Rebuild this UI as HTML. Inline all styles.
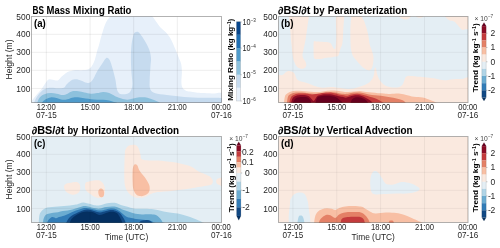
<!DOCTYPE html>
<html><head><meta charset="utf-8"><style>
html,body{margin:0;padding:0;background:#fff;width:500px;height:248px;overflow:hidden}
svg{display:block;will-change:transform}
text{font-family:"Liberation Sans",sans-serif}
.tk{font-size:8.7px;fill:#262626}
.tt{font-size:10px;font-weight:bold;fill:#000;stroke:#000;stroke-width:0.05px}
.pl{font-size:10.6px;font-weight:bold;fill:#000}
.cl{font-size:8px;font-weight:bold;fill:#000}
.cb{font-size:8.2px;fill:#262626}
.sup{font-size:5.2px;fill:#262626}
</style></head><body>
<svg width="500" height="248" viewBox="0 0 500 248" xmlns="http://www.w3.org/2000/svg">
<rect width="500" height="248" fill="#fff"/>
<clipPath id="ca"><rect x="31.5" y="16.5" width="190.00" height="86.00"/></clipPath>
<g clip-path="url(#ca)">
<rect x="31.5" y="16.5" width="190.00" height="86.00" fill="#ffffff"/>
<path d="M31.00,104.00 C31.13,103.17 30.97,102.40 31.80,101.00 C32.63,99.60 34.28,97.72 36.00,95.60 C37.72,93.48 40.28,90.73 42.10,88.30 C43.92,85.87 45.70,82.52 46.90,81.00 C48.10,79.48 48.28,79.40 49.30,79.20 C50.32,79.00 51.58,79.60 53.00,79.80 C54.42,80.00 56.40,80.90 57.80,80.40 C59.20,79.90 60.28,77.83 61.40,76.80 C62.52,75.77 63.37,75.03 64.50,74.20 C65.63,73.37 66.58,72.47 68.20,71.80 C69.82,71.13 72.02,70.47 74.20,70.20 C76.38,69.93 78.93,70.35 81.30,70.20 C83.67,70.05 86.62,70.03 88.40,69.30 C90.18,68.57 90.92,67.43 92.00,65.80 C93.08,64.17 94.07,61.88 94.90,59.50 C95.73,57.12 96.32,53.92 97.00,51.50 C97.68,49.08 98.23,47.70 99.00,45.00 C99.77,42.30 100.60,38.68 101.60,35.30 C102.60,31.92 103.93,27.37 105.00,24.70 C106.07,22.03 107.00,20.83 108.00,19.30 C109.00,17.77 110.25,16.55 111.00,15.50 C111.75,14.45 106.00,13.42 112.50,13.00 C119.00,12.58 143.50,12.67 150.00,13.00 C156.50,13.33 150.67,13.83 151.50,15.00 C152.33,16.17 154.00,18.60 155.00,20.00 C156.00,21.40 156.45,22.02 157.50,23.40 C158.55,24.78 159.92,26.82 161.30,28.30 C162.68,29.78 164.45,30.88 165.80,32.30 C167.15,33.72 168.37,35.27 169.40,36.80 C170.43,38.33 170.98,39.38 172.00,41.50 C173.02,43.62 174.35,46.75 175.50,49.50 C176.65,52.25 177.95,55.58 178.90,58.00 C179.85,60.42 180.70,61.67 181.20,64.00 C181.70,66.33 181.87,69.00 181.90,72.00 C181.93,75.00 181.32,79.42 181.40,82.00 C181.48,84.58 181.72,86.10 182.40,87.50 C183.08,88.90 184.23,89.72 185.50,90.40 C186.77,91.08 188.25,91.25 190.00,91.60 C191.75,91.95 193.92,92.25 196.00,92.50 C198.08,92.75 199.83,92.95 202.50,93.10 C205.17,93.25 208.42,93.32 212.00,93.40 C215.58,93.48 222.00,91.50 224.00,93.60 C226.00,95.70 256.17,103.93 224.00,106.00 C191.83,108.07 63.17,106.33 31.00,106.00 C-1.17,105.67 30.87,104.83 31.00,104.00Z" fill="#e7f0fa"/>
<path d="M34.20,106.00 C2.57,105.42 33.68,104.13 34.20,102.50 C34.72,100.87 35.98,98.17 37.30,96.20 C38.62,94.23 40.50,92.02 42.10,90.70 C43.70,89.38 45.28,88.80 46.90,88.30 C48.52,87.80 49.98,87.70 51.80,87.70 C53.62,87.70 55.78,88.30 57.80,88.30 C59.82,88.30 62.48,88.30 63.90,87.70 C65.32,87.10 65.10,85.92 66.30,84.70 C67.50,83.48 69.48,81.32 71.10,80.40 C72.72,79.48 74.38,79.20 76.00,79.20 C77.62,79.20 79.02,79.82 80.80,80.40 C82.58,80.98 85.08,82.38 86.70,82.70 C88.32,83.02 89.37,82.98 90.50,82.30 C91.63,81.62 92.37,80.47 93.50,78.60 C94.63,76.73 95.78,73.68 97.30,71.10 C98.82,68.52 101.32,65.07 102.60,63.10 C103.88,61.13 104.25,60.18 105.00,59.30 C105.75,58.42 106.35,57.72 107.10,57.80 C107.85,57.88 108.77,58.62 109.50,59.80 C110.23,60.98 110.83,62.87 111.50,64.90 C112.17,66.93 112.83,69.48 113.50,72.00 C114.17,74.52 114.95,77.25 115.50,80.00 C116.05,82.75 116.30,86.40 116.80,88.50 C117.30,90.60 117.75,91.63 118.50,92.60 C119.25,93.57 119.83,94.12 121.30,94.30 C122.77,94.48 125.72,94.30 127.30,93.70 C128.88,93.10 129.95,92.32 130.80,90.70 C131.65,89.08 132.30,87.12 132.40,84.00 C132.50,80.88 131.65,76.33 131.40,72.00 C131.15,67.67 130.90,62.33 130.90,58.00 C130.90,53.67 131.08,49.42 131.40,46.00 C131.72,42.58 132.30,39.67 132.80,37.50 C133.30,35.33 133.80,33.93 134.40,33.00 C135.00,32.07 135.72,32.02 136.40,31.90 C137.08,31.78 137.80,31.85 138.50,32.30 C139.20,32.75 139.58,33.22 140.60,34.60 C141.62,35.98 143.17,38.12 144.60,40.60 C146.03,43.08 148.13,46.60 149.20,49.50 C150.27,52.40 150.78,55.25 151.00,58.00 C151.22,60.75 150.72,62.33 150.50,66.00 C150.28,69.67 149.78,76.28 149.70,80.00 C149.62,83.72 149.37,86.22 150.00,88.30 C150.63,90.38 151.30,91.45 153.50,92.50 C155.70,93.55 158.78,93.93 163.20,94.60 C167.62,95.27 174.20,95.97 180.00,96.50 C185.80,97.03 190.67,97.48 198.00,97.80 C205.33,98.12 219.67,97.03 224.00,98.40 C228.33,99.77 255.63,104.73 224.00,106.00 C192.37,107.27 65.83,106.58 34.20,106.00Z" fill="#c6dbef"/>
<path d="M37.30,106.00 C16.85,105.42 36.90,103.93 37.30,102.50 C37.70,101.07 38.50,98.77 39.70,97.40 C40.90,96.03 42.68,95.02 44.50,94.30 C46.32,93.58 48.58,93.20 50.60,93.10 C52.62,93.00 54.60,93.38 56.60,93.70 C58.60,94.02 60.78,95.00 62.60,95.00 C64.42,95.00 65.88,94.32 67.50,93.70 C69.12,93.08 70.48,91.70 72.30,91.30 C74.12,90.90 76.38,91.10 78.40,91.30 C80.42,91.50 82.30,92.10 84.40,92.50 C86.50,92.90 88.88,93.60 91.00,93.70 C93.12,93.80 95.08,93.40 97.10,93.10 C99.12,92.80 101.08,91.90 103.10,91.90 C105.12,91.90 107.18,92.38 109.20,93.10 C111.22,93.82 113.18,95.28 115.20,96.20 C117.22,97.12 119.28,98.00 121.30,98.60 C123.32,99.20 125.28,99.80 127.30,99.80 C129.32,99.80 131.38,99.02 133.40,98.60 C135.42,98.18 137.47,97.52 139.40,97.30 C141.33,97.08 143.28,97.08 145.00,97.30 C146.72,97.52 148.20,98.15 149.70,98.60 C151.20,99.05 152.72,99.52 154.00,100.00 C155.28,100.48 156.40,101.00 157.40,101.50 C158.40,102.00 159.57,102.25 160.00,103.00 C160.43,103.75 180.45,105.50 160.00,106.00 C139.55,106.50 57.75,106.58 37.30,106.00Z" fill="#8dc1dd"/>
<path d="M42.10,106.00 C29.62,105.42 41.50,103.63 42.10,102.50 C42.70,101.37 44.28,100.05 45.70,99.20 C47.12,98.35 48.78,97.60 50.60,97.40 C52.42,97.20 54.60,97.60 56.60,98.00 C58.60,98.40 60.78,99.60 62.60,99.80 C64.42,100.00 65.68,99.60 67.50,99.20 C69.32,98.80 71.48,97.70 73.50,97.40 C75.52,97.10 77.58,97.20 79.60,97.40 C81.62,97.60 83.70,98.30 85.60,98.60 C87.50,98.90 89.08,99.00 91.00,99.20 C92.92,99.40 95.08,99.70 97.10,99.80 C99.12,99.90 101.08,99.70 103.10,99.80 C105.12,99.90 107.18,100.00 109.20,100.40 C111.22,100.80 113.90,101.77 115.20,102.20 C116.50,102.63 116.70,102.37 117.00,103.00 C117.30,103.63 129.48,105.50 117.00,106.00 C104.52,106.50 54.58,106.58 42.10,106.00Z" fill="#4f9bcb"/>
<line x1="46.3" y1="16.5" x2="46.3" y2="102.5" stroke="#000000" stroke-width="1" stroke-opacity="0.07"/>
<line x1="90.1" y1="16.5" x2="90.1" y2="102.5" stroke="#000000" stroke-width="1" stroke-opacity="0.07"/>
<line x1="133.7" y1="16.5" x2="133.7" y2="102.5" stroke="#000000" stroke-width="1" stroke-opacity="0.07"/>
<line x1="177.3" y1="16.5" x2="177.3" y2="102.5" stroke="#000000" stroke-width="1" stroke-opacity="0.07"/>
<line x1="31.5" y1="34.3" x2="221.5" y2="34.3" stroke="#000000" stroke-width="1" stroke-opacity="0.07"/>
<line x1="31.5" y1="52.3" x2="221.5" y2="52.3" stroke="#000000" stroke-width="1" stroke-opacity="0.07"/>
<line x1="31.5" y1="70.3" x2="221.5" y2="70.3" stroke="#000000" stroke-width="1" stroke-opacity="0.07"/>
<line x1="31.5" y1="88.4" x2="221.5" y2="88.4" stroke="#000000" stroke-width="1" stroke-opacity="0.07"/>
</g>
<rect x="31.5" y="16.5" width="190.00" height="86.00" fill="none" stroke="#000000" stroke-opacity="0.3" stroke-width="1"/>
<clipPath id="cbb"><rect x="278.5" y="16.5" width="189.50" height="86.00"/></clipPath>
<g clip-path="url(#cbb)">
<rect x="278.5" y="16.5" width="189.50" height="86.00" fill="#e4eef4"/>
<path d="M288.90,14.00 C285.55,14.33 288.70,13.58 288.90,16.00 C289.10,18.42 289.70,23.98 290.10,28.50 C290.50,33.02 290.82,38.25 291.30,43.10 C291.78,47.95 292.38,54.20 293.00,57.60 C293.62,61.00 294.40,62.05 295.00,63.50 C295.60,64.95 296.00,65.57 296.60,66.30 C297.20,67.03 297.73,67.48 298.60,67.90 C299.47,68.32 300.73,68.83 301.80,68.80 C302.87,68.77 304.25,68.30 305.00,67.70 C305.75,67.10 306.23,66.23 306.30,65.20 C306.37,64.17 305.90,62.62 305.40,61.50 C304.90,60.38 303.80,59.58 303.30,58.50 C302.80,57.42 302.38,56.37 302.40,55.00 C302.42,53.63 302.83,53.10 303.40,50.30 C303.97,47.50 305.12,42.23 305.80,38.20 C306.48,34.17 306.97,29.80 307.50,26.10 C308.03,22.40 308.75,18.02 309.00,16.00 C309.25,13.98 312.35,14.33 309.00,14.00 C305.65,13.67 292.25,13.67 288.90,14.00Z" fill="#fae9df"/>
<path d="M313.80,41.80 C314.20,40.37 314.63,41.40 316.00,41.40 C317.37,41.40 319.72,41.57 322.00,41.80 C324.28,42.03 328.02,42.15 329.70,42.80 C331.38,43.45 331.35,44.67 332.10,45.70 C332.85,46.73 333.62,48.78 334.20,49.00 C334.78,49.22 335.25,49.17 335.60,47.00 C335.95,44.83 336.15,41.50 336.30,36.00 C336.45,30.50 335.17,17.67 336.50,14.00 C337.83,10.33 343.02,13.58 344.30,14.00 C345.58,14.42 344.37,13.83 344.20,16.50 C344.03,19.17 343.60,25.53 343.30,30.00 C343.00,34.47 342.85,40.28 342.40,43.30 C341.95,46.32 341.12,46.50 340.60,48.10 C340.08,49.70 339.72,51.58 339.30,52.90 C338.88,54.22 338.70,55.38 338.10,56.00 C337.50,56.62 336.70,56.40 335.70,56.60 C334.70,56.80 333.30,57.05 332.10,57.20 C330.90,57.35 329.72,57.37 328.50,57.50 C327.28,57.63 325.82,57.80 324.80,58.00 C323.78,58.20 323.43,58.55 322.40,58.70 C321.37,58.85 319.97,58.97 318.60,58.90 C317.23,58.83 315.03,59.78 314.20,58.30 C313.37,56.82 313.67,52.75 313.60,50.00 C313.53,47.25 313.40,43.23 313.80,41.80Z" fill="#fae9df"/>
<path d="M351.00,14.00 C349.27,14.42 351.20,13.83 351.10,16.50 C351.00,19.17 350.48,25.42 350.40,30.00 C350.32,34.58 350.45,40.55 350.60,44.00 C350.75,47.45 350.93,48.73 351.30,50.70 C351.67,52.67 352.10,54.37 352.80,55.80 C353.50,57.23 354.53,58.10 355.50,59.30 C356.47,60.50 357.35,61.65 358.60,63.00 C359.85,64.35 361.53,66.23 363.00,67.40 C364.47,68.57 366.18,69.55 367.40,70.00 C368.62,70.45 369.43,70.77 370.30,70.10 C371.17,69.43 372.08,67.63 372.60,66.00 C373.12,64.37 373.28,61.97 373.40,60.30 C373.52,58.63 373.60,57.72 373.30,56.00 C373.00,54.28 372.22,52.00 371.60,50.00 C370.98,48.00 370.13,46.37 369.60,44.00 C369.07,41.63 368.90,38.38 368.40,35.80 C367.90,33.22 367.30,30.92 366.60,28.50 C365.90,26.08 365.00,23.30 364.20,21.30 C363.40,19.30 362.25,17.72 361.80,16.50 C361.35,15.28 363.30,14.42 361.50,14.00 C359.70,13.58 352.73,13.58 351.00,14.00Z" fill="#fae9df"/>
<path d="M276.00,74.80 C276.38,69.60 277.43,74.73 278.30,74.80 C279.17,74.87 280.30,75.30 281.20,75.20 C282.10,75.10 282.95,74.68 283.70,74.20 C284.45,73.72 284.93,72.83 285.70,72.30 C286.47,71.77 287.33,71.15 288.30,71.00 C289.27,70.85 290.53,71.08 291.50,71.40 C292.47,71.72 293.45,72.22 294.10,72.90 C294.75,73.58 294.98,74.53 295.40,75.50 C295.82,76.47 296.07,77.85 296.60,78.70 C297.13,79.55 297.70,80.08 298.60,80.60 C299.50,81.12 300.63,81.40 302.00,81.80 C303.37,82.20 305.20,82.50 306.80,83.00 C308.40,83.50 310.00,84.20 311.60,84.80 C313.20,85.40 314.60,86.10 316.40,86.60 C318.20,87.10 320.40,87.68 322.40,87.80 C324.40,87.92 326.63,87.42 328.40,87.30 C330.17,87.18 331.73,87.05 333.00,87.10 C334.27,87.15 334.50,87.40 336.00,87.60 C337.50,87.80 340.00,88.08 342.00,88.30 C344.00,88.52 346.00,88.88 348.00,88.90 C350.00,88.92 352.23,88.72 354.00,88.40 C355.77,88.08 356.95,87.53 358.60,87.00 C360.25,86.47 362.13,85.95 363.90,85.20 C365.67,84.45 367.72,83.68 369.20,82.50 C370.68,81.32 371.95,79.72 372.80,78.10 C373.65,76.48 374.00,74.38 374.30,72.80 C374.60,71.22 374.40,69.47 374.60,68.60 C374.80,67.73 375.23,67.47 375.50,67.60 C375.77,67.73 375.92,68.25 376.20,69.40 C376.48,70.55 376.73,72.90 377.20,74.50 C377.67,76.10 378.27,77.67 379.00,79.00 C379.73,80.33 380.68,81.50 381.60,82.50 C382.52,83.50 383.52,84.35 384.50,85.00 C385.48,85.65 385.90,85.98 387.50,86.40 C389.10,86.82 392.12,87.40 394.10,87.50 C396.08,87.60 397.98,87.50 399.40,87.00 C400.82,86.50 401.75,85.67 402.60,84.50 C403.45,83.33 403.97,81.25 404.50,80.00 C405.03,78.75 405.13,77.72 405.80,77.00 C406.47,76.28 407.47,75.87 408.50,75.70 C409.53,75.53 410.73,75.87 412.00,76.00 C413.27,76.13 413.95,76.30 416.10,76.50 C418.25,76.70 421.98,76.90 424.90,77.20 C427.82,77.50 430.33,77.78 433.60,78.30 C436.87,78.82 441.60,80.12 444.50,80.30 C447.40,80.48 448.10,79.62 451.00,79.40 C453.90,79.18 458.73,79.00 461.90,79.00 C465.07,79.00 468.65,74.90 470.00,79.40 C471.35,83.90 502.33,101.57 470.00,106.00 C437.67,110.43 308.33,111.20 276.00,106.00 C243.67,100.80 275.62,80.00 276.00,74.80Z" fill="#fae9df"/>
<path d="M445.20,14.00 C441.07,14.40 444.53,15.37 445.20,16.40 C445.87,17.43 447.73,19.37 449.20,20.20 C450.67,21.03 452.67,20.70 454.00,21.40 C455.33,22.10 456.13,23.27 457.20,24.40 C458.27,25.53 459.47,27.28 460.40,28.20 C461.33,29.12 462.00,29.72 462.80,29.90 C463.60,30.08 464.00,29.68 465.20,29.30 C466.40,28.92 469.20,30.15 470.00,27.60 C470.80,25.05 474.13,16.27 470.00,14.00 C465.87,11.73 449.33,13.60 445.20,14.00Z" fill="#fae9df"/>
<path d="M398.80,14.00 C396.83,14.40 398.47,15.63 399.00,16.40 C399.53,17.17 400.83,18.07 402.00,18.60 C403.17,19.13 404.83,19.60 406.00,19.60 C407.17,19.60 408.20,19.13 409.00,18.60 C409.80,18.07 410.50,17.17 410.80,16.40 C411.10,15.63 412.80,14.40 410.80,14.00 C408.80,13.60 400.77,13.60 398.80,14.00Z" fill="#fae9df"/>
<path d="M415.60,14.00 C414.42,14.47 415.77,16.17 416.50,16.80 C417.23,17.43 418.92,17.80 420.00,17.80 C421.08,17.80 422.40,17.43 423.00,16.80 C423.60,16.17 424.83,14.47 423.60,14.00 C422.37,13.53 416.78,13.53 415.60,14.00Z" fill="#fae9df"/>
<path d="M284.00,106.00 C258.67,105.42 283.80,104.23 284.00,102.50 C284.20,100.77 284.60,97.15 285.20,95.60 C285.80,94.05 286.60,93.90 287.60,93.20 C288.60,92.50 289.80,91.80 291.20,91.40 C292.60,91.00 294.20,90.87 296.00,90.80 C297.80,90.73 300.00,90.90 302.00,91.00 C304.00,91.10 306.00,91.23 308.00,91.40 C310.00,91.57 312.00,91.90 314.00,92.00 C316.00,92.10 318.00,92.17 320.00,92.00 C322.00,91.83 324.00,91.23 326.00,91.00 C328.00,90.77 330.33,90.63 332.00,90.60 C333.67,90.57 334.33,90.67 336.00,90.80 C337.67,90.93 340.00,91.20 342.00,91.40 C344.00,91.60 346.00,92.00 348.00,92.00 C350.00,92.00 352.00,91.57 354.00,91.40 C356.00,91.23 358.00,90.90 360.00,91.00 C362.00,91.10 364.00,91.73 366.00,92.00 C368.00,92.27 370.00,92.40 372.00,92.60 C374.00,92.80 376.00,93.07 378.00,93.20 C380.00,93.33 382.00,93.27 384.00,93.40 C386.00,93.53 387.55,93.97 390.00,94.00 C392.45,94.03 396.15,93.48 398.70,93.60 C401.25,93.72 402.75,94.17 405.30,94.70 C407.85,95.23 411.10,96.32 414.00,96.80 C416.90,97.28 419.80,96.98 422.70,97.60 C425.60,98.22 429.22,99.68 431.40,100.50 C433.58,101.32 435.03,101.58 435.80,102.50 C436.57,103.42 461.30,105.42 436.00,106.00 C410.70,106.58 309.33,106.58 284.00,106.00Z" fill="#f8bfa4"/>
<path d="M287.00,106.00 C267.25,105.42 286.80,104.13 287.00,102.50 C287.20,100.87 287.50,97.65 288.20,96.20 C288.90,94.75 289.90,94.40 291.20,93.80 C292.50,93.20 294.20,92.80 296.00,92.60 C297.80,92.40 300.00,92.50 302.00,92.60 C304.00,92.70 306.00,93.00 308.00,93.20 C310.00,93.40 312.00,93.75 314.00,93.80 C316.00,93.85 318.00,93.67 320.00,93.50 C322.00,93.33 324.00,93.02 326.00,92.80 C328.00,92.58 330.33,92.23 332.00,92.20 C333.67,92.17 334.33,92.33 336.00,92.60 C337.67,92.87 340.00,93.60 342.00,93.80 C344.00,94.00 346.00,94.00 348.00,93.80 C350.00,93.60 352.00,92.80 354.00,92.60 C356.00,92.40 358.00,92.40 360.00,92.60 C362.00,92.80 364.00,93.40 366.00,93.80 C368.00,94.20 370.00,94.70 372.00,95.00 C374.00,95.30 376.00,95.40 378.00,95.60 C380.00,95.80 382.00,95.92 384.00,96.20 C386.00,96.48 387.92,96.93 390.00,97.30 C392.08,97.67 394.50,97.93 396.50,98.40 C398.50,98.87 400.53,99.42 402.00,100.10 C403.47,100.78 404.72,101.52 405.30,102.50 C405.88,103.48 425.22,105.42 405.50,106.00 C385.78,106.58 306.75,106.58 287.00,106.00Z" fill="#e48066"/>
<path d="M289.40,106.00 C273.80,105.42 289.10,104.03 289.40,102.50 C289.70,100.97 290.30,98.15 291.20,96.80 C292.10,95.45 293.33,94.93 294.80,94.40 C296.27,93.87 298.47,93.75 300.00,93.60 C301.53,93.45 302.50,93.43 304.00,93.50 C305.50,93.57 307.58,93.82 309.00,94.00 C310.42,94.18 311.33,94.60 312.50,94.60 C313.67,94.60 314.75,94.20 316.00,94.00 C317.25,93.80 318.67,93.60 320.00,93.40 C321.33,93.20 322.67,92.93 324.00,92.80 C325.33,92.67 326.67,92.62 328.00,92.60 C329.33,92.58 330.67,92.53 332.00,92.70 C333.33,92.87 334.67,93.25 336.00,93.60 C337.33,93.95 338.67,94.52 340.00,94.80 C341.33,95.08 342.87,95.13 344.00,95.30 C345.13,95.47 345.53,95.95 346.80,95.80 C348.07,95.65 349.80,94.73 351.60,94.40 C353.40,94.07 355.60,93.70 357.60,93.80 C359.60,93.90 361.60,94.50 363.60,95.00 C365.60,95.50 367.60,96.20 369.60,96.80 C371.60,97.40 373.80,97.90 375.60,98.60 C377.40,99.30 379.20,100.35 380.40,101.00 C381.60,101.65 382.37,101.67 382.80,102.50 C383.23,103.33 398.57,105.42 383.00,106.00 C367.43,106.58 305.00,106.58 289.40,106.00Z" fill="#c43b3c"/>
<path d="M291.20,106.00 C277.73,105.42 290.98,103.75 291.20,102.50 C291.42,101.25 291.95,99.50 292.50,98.50 C293.05,97.50 293.75,97.00 294.50,96.50 C295.25,96.00 295.92,95.73 297.00,95.50 C298.08,95.27 299.83,95.17 301.00,95.10 C302.17,95.03 302.92,94.98 304.00,95.10 C305.08,95.22 306.50,95.45 307.50,95.80 C308.50,96.15 309.25,96.58 310.00,97.20 C310.75,97.82 311.42,98.87 312.00,99.50 C312.58,100.13 313.00,101.00 313.50,101.00 C314.00,101.00 314.50,100.17 315.00,99.50 C315.50,98.83 315.92,97.67 316.50,97.00 C317.08,96.33 317.75,95.83 318.50,95.50 C319.25,95.17 320.08,95.20 321.00,95.00 C321.92,94.80 322.83,94.43 324.00,94.30 C325.17,94.17 326.67,94.17 328.00,94.20 C329.33,94.23 330.67,94.30 332.00,94.50 C333.33,94.70 334.67,95.05 336.00,95.40 C337.33,95.75 338.67,96.30 340.00,96.60 C341.33,96.90 343.00,97.00 344.00,97.20 C345.00,97.40 345.13,97.87 346.00,97.80 C346.87,97.73 347.87,97.20 349.20,96.80 C350.53,96.40 352.20,95.60 354.00,95.40 C355.80,95.20 358.00,95.17 360.00,95.60 C362.00,96.03 364.20,97.10 366.00,98.00 C367.80,98.90 369.80,100.25 370.80,101.00 C371.80,101.75 371.80,101.67 372.00,102.50 C372.20,103.33 385.47,105.42 372.00,106.00 C358.53,106.58 304.67,106.58 291.20,106.00Z" fill="#8a0b25"/>
<path d="M293.00,106.00 C290.03,105.25 293.17,102.67 293.50,101.50 C293.83,100.33 294.33,99.65 295.00,99.00 C295.67,98.35 296.50,97.93 297.50,97.60 C298.50,97.27 299.92,97.10 301.00,97.00 C302.08,96.90 303.00,96.95 304.00,97.00 C305.00,97.05 306.17,97.05 307.00,97.30 C307.83,97.55 308.42,97.97 309.00,98.50 C309.58,99.03 310.13,99.75 310.50,100.50 C310.87,101.25 311.07,102.08 311.20,103.00 C311.33,103.92 314.33,105.50 311.30,106.00 C308.27,106.50 295.97,106.75 293.00,106.00Z" fill="#67001f"/>
<path d="M315.50,106.00 C311.02,105.33 315.58,103.20 315.80,102.00 C316.02,100.80 316.38,99.67 316.80,98.80 C317.22,97.93 317.60,97.23 318.30,96.80 C319.00,96.37 320.05,96.37 321.00,96.20 C321.95,96.03 322.83,95.87 324.00,95.80 C325.17,95.73 326.38,95.70 328.00,95.80 C329.62,95.90 332.20,96.07 333.70,96.40 C335.20,96.73 335.95,97.15 337.00,97.80 C338.05,98.45 339.17,99.60 340.00,100.30 C340.83,101.00 341.55,101.05 342.00,102.00 C342.45,102.95 347.12,105.33 342.70,106.00 C338.28,106.67 319.98,106.67 315.50,106.00Z" fill="#67001f"/>
<path d="M350.40,106.00 C347.50,105.33 350.70,103.13 351.00,102.00 C351.30,100.87 351.50,99.97 352.20,99.20 C352.90,98.43 353.90,97.70 355.20,97.40 C356.50,97.10 358.40,97.10 360.00,97.40 C361.60,97.70 363.55,98.43 364.80,99.20 C366.05,99.97 366.90,100.87 367.50,102.00 C368.10,103.13 371.25,105.33 368.40,106.00 C365.55,106.67 353.30,106.67 350.40,106.00Z" fill="#67001f"/>
<line x1="292.9" y1="16.5" x2="292.9" y2="102.5" stroke="#000000" stroke-width="1" stroke-opacity="0.05"/>
<line x1="336.8" y1="16.5" x2="336.8" y2="102.5" stroke="#000000" stroke-width="1" stroke-opacity="0.05"/>
<line x1="380.6" y1="16.5" x2="380.6" y2="102.5" stroke="#000000" stroke-width="1" stroke-opacity="0.05"/>
<line x1="424.5" y1="16.5" x2="424.5" y2="102.5" stroke="#000000" stroke-width="1" stroke-opacity="0.05"/>
<line x1="278.5" y1="34.3" x2="468.0" y2="34.3" stroke="#000000" stroke-width="1" stroke-opacity="0.05"/>
<line x1="278.5" y1="52.3" x2="468.0" y2="52.3" stroke="#000000" stroke-width="1" stroke-opacity="0.05"/>
<line x1="278.5" y1="70.3" x2="468.0" y2="70.3" stroke="#000000" stroke-width="1" stroke-opacity="0.05"/>
<line x1="278.5" y1="88.4" x2="468.0" y2="88.4" stroke="#000000" stroke-width="1" stroke-opacity="0.05"/>
</g>
<rect x="278.5" y="16.5" width="189.50" height="86.00" fill="none" stroke="#000000" stroke-opacity="0.3" stroke-width="1"/>
<clipPath id="cc"><rect x="31.5" y="136.5" width="190.00" height="86.00"/></clipPath>
<g clip-path="url(#cc)">
<rect x="31.5" y="136.5" width="190.00" height="86.00" fill="#e4eef4"/>
<path d="M64.00,187.00 C63.92,185.92 64.42,185.12 65.00,184.50 C65.58,183.88 66.50,183.58 67.50,183.30 C68.50,183.02 69.75,183.02 71.00,182.80 C72.25,182.58 73.92,182.08 75.00,182.00 C76.08,181.92 76.75,181.97 77.50,182.30 C78.25,182.63 79.03,183.13 79.50,184.00 C79.97,184.87 80.30,186.25 80.30,187.50 C80.30,188.75 80.13,190.42 79.50,191.50 C78.87,192.58 77.58,193.45 76.50,194.00 C75.42,194.55 74.25,194.88 73.00,194.80 C71.75,194.72 70.25,194.13 69.00,193.50 C67.75,192.87 66.33,192.08 65.50,191.00 C64.67,189.92 64.08,188.08 64.00,187.00Z" fill="#fae9df"/>
<path d="M85.00,186.00 C85.03,185.00 85.12,183.67 85.50,183.00 C85.88,182.33 86.38,182.33 87.30,182.00 C88.22,181.67 89.50,181.28 91.00,181.00 C92.50,180.72 94.72,180.30 96.30,180.30 C97.88,180.30 99.30,180.38 100.50,181.00 C101.70,181.62 102.75,182.60 103.50,184.00 C104.25,185.40 104.83,187.73 105.00,189.40 C105.17,191.07 104.88,192.72 104.50,194.00 C104.12,195.28 103.62,196.43 102.70,197.10 C101.78,197.77 100.28,198.02 99.00,198.00 C97.72,197.98 96.33,197.58 95.00,197.00 C93.67,196.42 92.33,195.42 91.00,194.50 C89.67,193.58 87.95,192.42 87.00,191.50 C86.05,190.58 85.63,189.92 85.30,189.00 C84.97,188.08 84.97,187.00 85.00,186.00Z" fill="#fae9df"/>
<path d="M98.30,191.00 C98.55,189.83 99.72,188.75 100.50,188.50 C101.28,188.25 102.40,188.83 103.00,189.50 C103.60,190.17 104.02,191.37 104.10,192.50 C104.18,193.63 104.02,195.52 103.50,196.30 C102.98,197.08 101.75,197.33 101.00,197.20 C100.25,197.07 99.45,196.53 99.00,195.50 C98.55,194.47 98.05,192.17 98.30,191.00Z" fill="#f8bfa4"/>
<path d="M124.80,154.50 C125.08,149.88 125.18,150.03 126.00,148.50 C126.82,146.97 128.28,145.92 129.70,145.30 C131.12,144.68 133.10,144.48 134.50,144.80 C135.90,145.12 137.10,145.58 138.10,147.20 C139.10,148.82 139.90,152.48 140.50,154.50 C141.10,156.52 140.28,158.30 141.70,159.30 C143.12,160.30 146.18,160.30 149.00,160.50 C151.82,160.70 155.93,160.37 158.60,160.50 C161.27,160.63 162.22,160.95 165.00,161.30 C167.78,161.65 171.00,161.73 175.30,162.60 C179.60,163.47 186.92,165.00 190.80,166.50 C194.68,168.00 196.23,170.32 198.60,171.60 C200.97,172.88 203.07,173.33 205.00,174.20 C206.93,175.07 208.90,175.72 210.20,176.80 C211.50,177.88 212.58,179.42 212.80,180.70 C213.02,181.98 212.58,183.65 211.50,184.50 C210.42,185.35 208.45,185.37 206.30,185.80 C204.15,186.23 201.18,186.67 198.60,187.10 C196.02,187.53 193.82,187.97 190.80,188.40 C187.78,188.83 183.42,189.32 180.50,189.70 C177.58,190.08 175.98,190.40 173.30,190.70 C170.62,191.00 167.37,191.22 164.40,191.50 C161.43,191.78 157.87,191.95 155.50,192.40 C153.13,192.85 151.97,193.45 150.20,194.20 C148.43,194.95 146.68,196.30 144.90,196.90 C143.12,197.50 141.28,197.80 139.50,197.80 C137.72,197.80 135.97,197.65 134.20,196.90 C132.43,196.15 130.38,194.93 128.90,193.30 C127.42,191.67 126.07,189.95 125.30,187.10 C124.53,184.25 124.38,181.63 124.30,176.20 C124.22,170.77 124.52,159.12 124.80,154.50Z" fill="#fae9df"/>
<path d="M135.00,164.20 C135.68,164.00 136.68,164.40 137.40,165.40 C138.12,166.40 138.38,168.60 139.30,170.20 C140.22,171.80 141.68,173.38 142.90,175.00 C144.12,176.62 145.50,178.08 146.60,179.90 C147.70,181.72 149.10,183.90 149.50,185.90 C149.90,187.90 149.88,190.28 149.00,191.90 C148.12,193.52 145.78,194.92 144.20,195.60 C142.62,196.28 140.87,196.23 139.50,196.00 C138.13,195.77 137.03,195.38 136.00,194.20 C134.97,193.02 133.87,191.10 133.30,188.90 C132.73,186.70 132.72,183.92 132.60,181.00 C132.48,178.08 132.48,173.80 132.60,171.40 C132.72,169.00 132.90,167.80 133.30,166.60 C133.70,165.40 134.32,164.40 135.00,164.20Z" fill="#f8bfa4"/>
<path d="M216.70,179.40 C217.17,178.78 217.78,178.53 219.00,178.30 C220.22,178.07 223.17,176.75 224.00,178.00 C224.83,179.25 225.00,184.72 224.00,185.80 C223.00,186.88 219.30,185.13 218.00,184.50 C216.70,183.87 216.42,182.85 216.20,182.00 C215.98,181.15 216.23,180.02 216.70,179.40Z" fill="#fae9df"/>
<path d="M38.80,226.00 C11.43,225.42 38.70,224.30 38.80,222.50 C38.90,220.70 39.00,217.02 39.40,215.20 C39.80,213.38 40.50,212.60 41.20,211.60 C41.90,210.60 42.60,209.87 43.60,209.20 C44.60,208.53 45.80,207.97 47.20,207.60 C48.60,207.23 50.20,207.17 52.00,207.00 C53.80,206.83 56.00,206.75 58.00,206.60 C60.00,206.45 62.00,206.27 64.00,206.10 C66.00,205.93 68.00,205.85 70.00,205.60 C72.00,205.35 74.40,204.97 76.00,204.60 C77.60,204.23 78.40,203.73 79.60,203.40 C80.80,203.07 82.00,202.62 83.20,202.60 C84.40,202.58 85.40,203.00 86.80,203.30 C88.20,203.60 90.23,204.07 91.60,204.40 C92.97,204.73 93.60,205.15 95.00,205.30 C96.40,205.45 98.17,205.62 100.00,205.30 C101.83,204.98 104.00,203.82 106.00,203.40 C108.00,202.98 110.20,202.82 112.00,202.80 C113.80,202.78 115.20,202.90 116.80,203.30 C118.40,203.70 119.80,204.62 121.60,205.20 C123.40,205.78 125.60,206.27 127.60,206.80 C129.60,207.33 131.20,208.08 133.60,208.40 C136.00,208.72 139.00,208.60 142.00,208.70 C145.00,208.80 149.00,208.78 151.60,209.00 C154.20,209.22 155.60,209.60 157.60,210.00 C159.60,210.40 161.60,211.00 163.60,211.40 C165.60,211.80 167.22,212.03 169.60,212.40 C171.98,212.77 174.37,212.80 177.90,213.60 C181.43,214.40 187.35,216.05 190.80,217.20 C194.25,218.35 196.65,219.62 198.60,220.50 C200.55,221.38 201.77,221.58 202.50,222.50 C203.23,223.42 230.28,225.42 203.00,226.00 C175.72,226.58 66.17,226.58 38.80,226.00Z" fill="#b1d5e7"/>
<path d="M43.00,226.00 C23.07,225.42 42.90,223.70 43.00,222.50 C43.10,221.30 43.20,220.02 43.60,218.80 C44.00,217.58 44.60,216.03 45.40,215.20 C46.20,214.37 47.10,214.20 48.40,213.80 C49.70,213.40 51.60,213.07 53.20,212.80 C54.80,212.53 56.40,212.50 58.00,212.20 C59.60,211.90 61.20,211.30 62.80,211.00 C64.40,210.70 66.00,210.67 67.60,210.40 C69.20,210.13 70.80,209.80 72.40,209.40 C74.00,209.00 75.60,208.50 77.20,208.00 C78.80,207.50 80.40,206.70 82.00,206.40 C83.60,206.10 85.20,206.03 86.80,206.20 C88.40,206.37 90.07,207.05 91.60,207.40 C93.13,207.75 94.60,208.10 96.00,208.30 C97.40,208.50 98.33,208.82 100.00,208.60 C101.67,208.38 104.00,207.37 106.00,207.00 C108.00,206.63 110.20,206.40 112.00,206.40 C113.80,206.40 115.20,206.53 116.80,207.00 C118.40,207.47 119.80,208.48 121.60,209.20 C123.40,209.92 125.60,210.63 127.60,211.30 C129.60,211.97 131.20,212.67 133.60,213.20 C136.00,213.73 139.60,214.32 142.00,214.50 C144.40,214.68 146.00,214.28 148.00,214.30 C150.00,214.32 152.40,214.32 154.00,214.60 C155.60,214.88 156.50,215.27 157.60,216.00 C158.70,216.73 159.80,218.00 160.60,219.00 C161.40,220.00 162.07,220.83 162.40,222.00 C162.73,223.17 182.50,225.33 162.60,226.00 C142.70,226.67 62.93,226.58 43.00,226.00Z" fill="#6bacd1"/>
<path d="M47.20,226.00 C29.57,225.42 47.00,223.50 47.20,222.50 C47.40,221.50 47.90,220.72 48.40,220.00 C48.90,219.28 49.60,218.70 50.20,218.20 C50.80,217.70 51.30,217.13 52.00,217.00 C52.70,216.87 53.70,217.20 54.40,217.40 C55.10,217.60 55.40,218.27 56.20,218.20 C57.00,218.13 57.90,217.40 59.20,217.00 C60.50,216.60 62.40,216.33 64.00,215.80 C65.60,215.27 67.20,214.50 68.80,213.80 C70.40,213.10 72.00,212.27 73.60,211.60 C75.20,210.93 76.80,210.37 78.40,209.80 C80.00,209.23 81.60,208.45 83.20,208.20 C84.80,207.95 86.20,208.10 88.00,208.30 C89.80,208.50 92.00,209.02 94.00,209.40 C96.00,209.78 98.00,210.60 100.00,210.60 C102.00,210.60 104.00,209.73 106.00,209.40 C108.00,209.07 110.20,208.60 112.00,208.60 C113.80,208.60 115.47,208.92 116.80,209.40 C118.13,209.88 118.88,210.65 120.00,211.50 C121.12,212.35 122.33,213.58 123.50,214.50 C124.67,215.42 125.92,216.45 127.00,217.00 C128.08,217.55 128.50,217.47 130.00,217.80 C131.50,218.13 134.20,218.70 136.00,219.00 C137.80,219.30 139.20,219.43 140.80,219.60 C142.40,219.77 144.00,219.80 145.60,220.00 C147.20,220.20 149.20,220.47 150.40,220.80 C151.60,221.13 152.37,221.13 152.80,222.00 C153.23,222.87 170.60,225.33 153.00,226.00 C135.40,226.67 64.83,226.58 47.20,226.00Z" fill="#327cb7"/>
<path d="M64.40,226.00 C54.47,225.42 65.87,223.50 66.40,222.50 C66.93,221.50 67.00,220.92 67.60,220.00 C68.20,219.08 69.00,217.90 70.00,217.00 C71.00,216.10 72.20,215.40 73.60,214.60 C75.00,213.80 76.80,212.93 78.40,212.20 C80.00,211.47 81.60,210.63 83.20,210.20 C84.80,209.77 86.20,209.47 88.00,209.60 C89.80,209.73 92.00,210.53 94.00,211.00 C96.00,211.47 98.00,212.40 100.00,212.40 C102.00,212.40 104.00,211.40 106.00,211.00 C108.00,210.60 110.20,209.97 112.00,210.00 C113.80,210.03 115.40,210.60 116.80,211.20 C118.20,211.80 119.40,212.63 120.40,213.60 C121.40,214.57 122.10,215.93 122.80,217.00 C123.50,218.07 124.15,219.08 124.60,220.00 C125.05,220.92 125.27,221.50 125.50,222.50 C125.73,223.50 136.18,225.42 126.00,226.00 C115.82,226.58 74.33,226.58 64.40,226.00Z" fill="#124984"/>
<path d="M138.00,226.00 C135.92,225.20 139.33,222.17 140.50,221.20 C141.67,220.23 143.42,220.27 145.00,220.20 C146.58,220.13 148.67,219.83 150.00,220.80 C151.33,221.77 155.00,225.13 153.00,226.00 C151.00,226.87 140.08,226.80 138.00,226.00Z" fill="#124984"/>
<path d="M70.00,226.00 C61.25,225.42 69.80,223.60 70.00,222.50 C70.20,221.40 70.60,220.32 71.20,219.40 C71.80,218.48 72.60,217.80 73.60,217.00 C74.60,216.20 75.80,215.40 77.20,214.60 C78.60,213.80 80.40,212.73 82.00,212.20 C83.60,211.67 85.20,211.47 86.80,211.40 C88.40,211.33 90.32,211.57 91.60,211.80 C92.88,212.03 93.27,212.27 94.50,212.80 C95.73,213.33 97.48,214.80 99.00,215.00 C100.52,215.20 102.03,214.47 103.60,214.00 C105.17,213.53 106.80,212.57 108.40,212.20 C110.00,211.83 111.80,211.67 113.20,211.80 C114.60,211.93 115.80,212.30 116.80,213.00 C117.80,213.70 118.50,214.90 119.20,216.00 C119.90,217.10 120.50,218.52 121.00,219.60 C121.50,220.68 121.95,221.43 122.20,222.50 C122.45,223.57 131.20,225.42 122.50,226.00 C113.80,226.58 78.75,226.58 70.00,226.00Z" fill="#053061"/>
<line x1="46.3" y1="136.5" x2="46.3" y2="222.5" stroke="#000000" stroke-width="1" stroke-opacity="0.05"/>
<line x1="90.1" y1="136.5" x2="90.1" y2="222.5" stroke="#000000" stroke-width="1" stroke-opacity="0.05"/>
<line x1="133.7" y1="136.5" x2="133.7" y2="222.5" stroke="#000000" stroke-width="1" stroke-opacity="0.05"/>
<line x1="177.3" y1="136.5" x2="177.3" y2="222.5" stroke="#000000" stroke-width="1" stroke-opacity="0.05"/>
<line x1="31.5" y1="154.3" x2="221.5" y2="154.3" stroke="#000000" stroke-width="1" stroke-opacity="0.05"/>
<line x1="31.5" y1="172.3" x2="221.5" y2="172.3" stroke="#000000" stroke-width="1" stroke-opacity="0.05"/>
<line x1="31.5" y1="190.3" x2="221.5" y2="190.3" stroke="#000000" stroke-width="1" stroke-opacity="0.05"/>
<line x1="31.5" y1="208.4" x2="221.5" y2="208.4" stroke="#000000" stroke-width="1" stroke-opacity="0.05"/>
</g>
<rect x="31.5" y="136.5" width="190.00" height="86.00" fill="none" stroke="#000000" stroke-opacity="0.3" stroke-width="1"/>
<clipPath id="cd"><rect x="278.5" y="136.5" width="189.50" height="86.00"/></clipPath>
<g clip-path="url(#cd)">
<rect x="278.5" y="136.5" width="189.50" height="86.00" fill="#fae9df"/>
<path d="M290.10,226.00 C286.95,222.10 289.92,207.22 290.10,202.60 C290.28,197.98 290.65,199.57 291.20,198.30 C291.75,197.03 292.32,195.92 293.40,195.00 C294.48,194.08 296.25,193.17 297.70,192.80 C299.15,192.43 300.83,192.43 302.10,192.80 C303.37,193.17 304.40,193.73 305.30,195.00 C306.20,196.27 306.95,198.40 307.50,200.40 C308.05,202.40 308.35,202.73 308.60,207.00 C308.85,211.27 312.08,222.83 309.00,226.00 C305.92,229.17 293.25,229.90 290.10,226.00Z" fill="#e4eef4"/>
<path d="M297.70,226.00 C296.75,224.50 298.05,218.73 298.60,217.00 C299.15,215.27 300.23,215.50 301.00,215.60 C301.77,215.70 302.65,215.87 303.20,217.60 C303.75,219.33 305.22,224.60 304.30,226.00 C303.38,227.40 298.65,227.50 297.70,226.00Z" fill="#b1d5e7"/>
<path d="M371.60,174.20 C372.25,172.82 373.12,171.40 374.20,171.10 C375.28,170.80 376.80,171.23 378.10,172.40 C379.40,173.57 380.72,176.20 382.00,178.10 C383.28,180.00 383.87,182.73 385.80,183.80 C387.73,184.87 391.02,184.80 393.60,184.50 C396.18,184.20 398.50,182.20 401.30,182.00 C404.10,181.80 407.60,182.45 410.40,183.30 C413.20,184.15 416.60,186.03 418.10,187.10 C419.60,188.17 420.03,188.83 419.40,189.70 C418.77,190.57 416.45,191.65 414.30,192.30 C412.15,192.95 409.52,193.38 406.50,193.60 C403.48,193.82 399.65,193.52 396.20,193.60 C392.75,193.68 389.25,193.97 385.80,194.10 C382.35,194.23 377.87,194.70 375.50,194.40 C373.13,194.10 372.47,193.73 371.60,192.30 C370.73,190.87 370.52,187.95 370.30,185.80 C370.08,183.65 370.08,181.33 370.30,179.40 C370.52,177.47 370.95,175.58 371.60,174.20Z" fill="#e4eef4"/>
<path d="M314.20,226.00 C296.23,225.42 314.00,224.27 314.20,222.50 C314.40,220.73 314.70,217.28 315.40,215.40 C316.10,213.52 317.30,212.23 318.40,211.20 C319.50,210.17 320.60,209.70 322.00,209.20 C323.40,208.70 325.20,208.27 326.80,208.20 C328.40,208.13 330.20,208.50 331.60,208.80 C333.00,209.10 334.00,210.10 335.20,210.00 C336.40,209.90 337.40,208.73 338.80,208.20 C340.20,207.67 341.60,207.17 343.60,206.80 C345.60,206.43 348.40,206.10 350.80,206.00 C353.20,205.90 356.00,206.03 358.00,206.20 C360.00,206.37 361.50,206.53 362.80,207.00 C364.10,207.47 364.55,208.22 365.80,209.00 C367.05,209.78 368.68,210.95 370.30,211.70 C371.92,212.45 372.92,213.37 375.50,213.50 C378.08,213.63 382.35,212.58 385.80,212.50 C389.25,212.42 393.18,212.62 396.20,213.00 C399.22,213.38 401.32,213.95 403.90,214.80 C406.48,215.65 409.12,216.98 411.70,218.10 C414.28,219.22 417.68,220.77 419.40,221.50 C421.12,222.23 421.57,221.75 422.00,222.50 C422.43,223.25 439.97,225.42 422.00,226.00 C404.03,226.58 332.17,226.58 314.20,226.00Z" fill="#f8bfa4"/>
<path d="M319.00,226.00 C310.58,225.42 318.80,223.57 319.00,222.50 C319.20,221.43 319.50,220.58 320.20,219.60 C320.90,218.62 322.10,217.40 323.20,216.60 C324.30,215.80 325.60,215.03 326.80,214.80 C328.00,214.57 329.30,214.80 330.40,215.20 C331.50,215.60 332.50,216.77 333.40,217.20 C334.30,217.63 334.90,218.20 335.80,217.80 C336.70,217.40 337.50,215.63 338.80,214.80 C340.10,213.97 341.80,213.27 343.60,212.80 C345.40,212.33 347.20,212.13 349.60,212.00 C352.00,211.87 356.00,211.87 358.00,212.00 C360.00,212.13 360.50,212.33 361.60,212.80 C362.70,213.27 363.60,213.90 364.60,214.80 C365.60,215.70 366.83,217.08 367.60,218.20 C368.37,219.32 368.88,220.20 369.20,221.50 C369.52,222.80 377.87,225.25 369.50,226.00 C361.13,226.75 327.42,226.58 319.00,226.00Z" fill="#e48066"/>
<path d="M388.20,226.00 C387.40,225.23 388.68,222.30 389.20,221.40 C389.72,220.50 390.60,220.60 391.30,220.60 C392.00,220.60 392.95,220.50 393.40,221.40 C393.85,222.30 394.87,225.23 394.00,226.00 C393.13,226.77 389.00,226.77 388.20,226.00Z" fill="#e48066"/>
<path d="M340.60,226.00 C336.57,225.33 340.60,223.17 340.80,222.00 C341.00,220.83 341.13,219.73 341.80,219.00 C342.47,218.27 343.30,217.97 344.80,217.60 C346.30,217.23 348.60,216.93 350.80,216.80 C353.00,216.67 356.20,216.67 358.00,216.80 C359.80,216.93 360.67,217.18 361.60,217.60 C362.53,218.02 363.10,218.57 363.60,219.30 C364.10,220.03 364.37,220.88 364.60,222.00 C364.83,223.12 369.00,225.33 365.00,226.00 C361.00,226.67 344.63,226.67 340.60,226.00Z" fill="#c43b3c"/>
<line x1="292.9" y1="136.5" x2="292.9" y2="222.5" stroke="#000000" stroke-width="1" stroke-opacity="0.05"/>
<line x1="336.8" y1="136.5" x2="336.8" y2="222.5" stroke="#000000" stroke-width="1" stroke-opacity="0.05"/>
<line x1="380.6" y1="136.5" x2="380.6" y2="222.5" stroke="#000000" stroke-width="1" stroke-opacity="0.05"/>
<line x1="424.5" y1="136.5" x2="424.5" y2="222.5" stroke="#000000" stroke-width="1" stroke-opacity="0.05"/>
<line x1="278.5" y1="154.3" x2="468.0" y2="154.3" stroke="#000000" stroke-width="1" stroke-opacity="0.05"/>
<line x1="278.5" y1="172.3" x2="468.0" y2="172.3" stroke="#000000" stroke-width="1" stroke-opacity="0.05"/>
<line x1="278.5" y1="190.3" x2="468.0" y2="190.3" stroke="#000000" stroke-width="1" stroke-opacity="0.05"/>
<line x1="278.5" y1="208.4" x2="468.0" y2="208.4" stroke="#000000" stroke-width="1" stroke-opacity="0.05"/>
</g>
<rect x="278.5" y="136.5" width="189.50" height="86.00" fill="none" stroke="#000000" stroke-opacity="0.3" stroke-width="1"/>
<text x="32.60" y="13.8" class="tt" textLength="11.40" lengthAdjust="spacingAndGlyphs">BS</text>
<text x="46.60" y="13.8" class="tt" textLength="23.70" lengthAdjust="spacingAndGlyphs">Mass</text>
<text x="73.10" y="13.8" class="tt" textLength="31.80" lengthAdjust="spacingAndGlyphs">Mixing</text>
<text x="107.50" y="13.8" class="tt" textLength="23.90" lengthAdjust="spacingAndGlyphs">Ratio</text>
<text x="278.10" y="13.8" class="tt" textLength="32.20" lengthAdjust="spacingAndGlyphs">∂BS/∂t</text>
<text x="313.30" y="13.8" class="tt" textLength="11.30" lengthAdjust="spacingAndGlyphs">by</text>
<text x="327.80" y="13.8" class="tt" textLength="79.40" lengthAdjust="spacingAndGlyphs">Parameterization</text>
<text x="31.80" y="133.8" class="tt" textLength="32.50" lengthAdjust="spacingAndGlyphs">∂BS/∂t</text>
<text x="67.40" y="133.8" class="tt" textLength="10.90" lengthAdjust="spacingAndGlyphs">by</text>
<text x="81.40" y="133.8" class="tt" textLength="47.80" lengthAdjust="spacingAndGlyphs">Horizontal</text>
<text x="131.50" y="133.8" class="tt" textLength="47.50" lengthAdjust="spacingAndGlyphs">Advection</text>
<text x="278.10" y="133.8" class="tt" textLength="32.20" lengthAdjust="spacingAndGlyphs">∂BS/∂t</text>
<text x="313.30" y="133.8" class="tt" textLength="11.00" lengthAdjust="spacingAndGlyphs">by</text>
<text x="326.60" y="133.8" class="tt" textLength="36.20" lengthAdjust="spacingAndGlyphs">Vertical</text>
<text x="364.60" y="133.8" class="tt" textLength="48.00" lengthAdjust="spacingAndGlyphs">Advection</text>
<text x="34.0" y="27.0" class="pl" textLength="11.8" lengthAdjust="spacingAndGlyphs">(a)</text>
<text x="281.0" y="27.0" class="pl" textLength="12.6" lengthAdjust="spacingAndGlyphs">(b)</text>
<text x="34.0" y="147.0" class="pl" textLength="11.4" lengthAdjust="spacingAndGlyphs">(c)</text>
<text x="281.0" y="147.0" class="pl" textLength="12.6" lengthAdjust="spacingAndGlyphs">(d)</text>
<text x="16.3" y="19.6" class="tk" textLength="14" lengthAdjust="spacingAndGlyphs">500</text>
<text x="16.3" y="37.4" class="tk" textLength="14" lengthAdjust="spacingAndGlyphs">400</text>
<text x="16.3" y="55.4" class="tk" textLength="14" lengthAdjust="spacingAndGlyphs">300</text>
<text x="16.3" y="73.4" class="tk" textLength="14" lengthAdjust="spacingAndGlyphs">200</text>
<text x="16.3" y="91.5" class="tk" textLength="14" lengthAdjust="spacingAndGlyphs">100</text>
<text x="263.3" y="19.6" class="tk" textLength="14" lengthAdjust="spacingAndGlyphs">500</text>
<text x="263.3" y="37.4" class="tk" textLength="14" lengthAdjust="spacingAndGlyphs">400</text>
<text x="263.3" y="55.4" class="tk" textLength="14" lengthAdjust="spacingAndGlyphs">300</text>
<text x="263.3" y="73.4" class="tk" textLength="14" lengthAdjust="spacingAndGlyphs">200</text>
<text x="263.3" y="91.5" class="tk" textLength="14" lengthAdjust="spacingAndGlyphs">100</text>
<text x="16.3" y="139.6" class="tk" textLength="14" lengthAdjust="spacingAndGlyphs">500</text>
<text x="16.3" y="157.4" class="tk" textLength="14" lengthAdjust="spacingAndGlyphs">400</text>
<text x="16.3" y="175.4" class="tk" textLength="14" lengthAdjust="spacingAndGlyphs">300</text>
<text x="16.3" y="193.4" class="tk" textLength="14" lengthAdjust="spacingAndGlyphs">200</text>
<text x="16.3" y="211.5" class="tk" textLength="14" lengthAdjust="spacingAndGlyphs">100</text>
<text x="263.3" y="139.6" class="tk" textLength="14" lengthAdjust="spacingAndGlyphs">500</text>
<text x="263.3" y="157.4" class="tk" textLength="14" lengthAdjust="spacingAndGlyphs">400</text>
<text x="263.3" y="175.4" class="tk" textLength="14" lengthAdjust="spacingAndGlyphs">300</text>
<text x="263.3" y="193.4" class="tk" textLength="14" lengthAdjust="spacingAndGlyphs">200</text>
<text x="263.3" y="211.5" class="tk" textLength="14" lengthAdjust="spacingAndGlyphs">100</text>
<text x="36.7" y="109.8" class="tk" textLength="19.2" lengthAdjust="spacingAndGlyphs">12:00</text>
<text x="80.5" y="109.8" class="tk" textLength="19.2" lengthAdjust="spacingAndGlyphs">15:00</text>
<text x="124.1" y="109.8" class="tk" textLength="19.2" lengthAdjust="spacingAndGlyphs">18:00</text>
<text x="167.7" y="109.8" class="tk" textLength="19.2" lengthAdjust="spacingAndGlyphs">21:00</text>
<text x="211.6" y="109.8" class="tk" textLength="19.2" lengthAdjust="spacingAndGlyphs">00:00</text>
<text x="36.0" y="118.0" class="tk" textLength="20.8" lengthAdjust="spacingAndGlyphs">07-15</text>
<text x="210.9" y="118.0" class="tk" textLength="20.8" lengthAdjust="spacingAndGlyphs">07-16</text>
<text x="283.3" y="109.8" class="tk" textLength="19.2" lengthAdjust="spacingAndGlyphs">12:00</text>
<text x="327.2" y="109.8" class="tk" textLength="19.2" lengthAdjust="spacingAndGlyphs">15:00</text>
<text x="371.0" y="109.8" class="tk" textLength="19.2" lengthAdjust="spacingAndGlyphs">18:00</text>
<text x="414.9" y="109.8" class="tk" textLength="19.2" lengthAdjust="spacingAndGlyphs">21:00</text>
<text x="458.2" y="109.8" class="tk" textLength="19.2" lengthAdjust="spacingAndGlyphs">00:00</text>
<text x="282.6" y="118.0" class="tk" textLength="20.8" lengthAdjust="spacingAndGlyphs">07-15</text>
<text x="457.5" y="118.0" class="tk" textLength="20.8" lengthAdjust="spacingAndGlyphs">07-16</text>
<text x="36.7" y="229.8" class="tk" textLength="19.2" lengthAdjust="spacingAndGlyphs">12:00</text>
<text x="80.5" y="229.8" class="tk" textLength="19.2" lengthAdjust="spacingAndGlyphs">15:00</text>
<text x="124.1" y="229.8" class="tk" textLength="19.2" lengthAdjust="spacingAndGlyphs">18:00</text>
<text x="167.7" y="229.8" class="tk" textLength="19.2" lengthAdjust="spacingAndGlyphs">21:00</text>
<text x="211.6" y="229.8" class="tk" textLength="19.2" lengthAdjust="spacingAndGlyphs">00:00</text>
<text x="36.0" y="238.0" class="tk" textLength="20.8" lengthAdjust="spacingAndGlyphs">07-15</text>
<text x="210.9" y="238.0" class="tk" textLength="20.8" lengthAdjust="spacingAndGlyphs">07-16</text>
<text x="283.3" y="229.8" class="tk" textLength="19.2" lengthAdjust="spacingAndGlyphs">12:00</text>
<text x="327.2" y="229.8" class="tk" textLength="19.2" lengthAdjust="spacingAndGlyphs">15:00</text>
<text x="371.0" y="229.8" class="tk" textLength="19.2" lengthAdjust="spacingAndGlyphs">18:00</text>
<text x="414.9" y="229.8" class="tk" textLength="19.2" lengthAdjust="spacingAndGlyphs">21:00</text>
<text x="458.2" y="229.8" class="tk" textLength="19.2" lengthAdjust="spacingAndGlyphs">00:00</text>
<text x="282.6" y="238.0" class="tk" textLength="20.8" lengthAdjust="spacingAndGlyphs">07-15</text>
<text x="457.5" y="238.0" class="tk" textLength="20.8" lengthAdjust="spacingAndGlyphs">07-16</text>
<text transform="translate(12.2,59.5) rotate(-90)" text-anchor="middle" class="tk" style="font-size:8.4px" textLength="40" lengthAdjust="spacingAndGlyphs">Height (m)</text>
<text transform="translate(12.2,179.5) rotate(-90)" text-anchor="middle" class="tk" style="font-size:8.4px" textLength="40" lengthAdjust="spacingAndGlyphs">Height (m)</text>
<text x="126.5" y="240.3" text-anchor="middle" class="tk" style="font-size:8.4px">Time (UTC)</text>
<text x="373.2" y="240.3" text-anchor="middle" class="tk" style="font-size:8.4px">Time (UTC)</text>
<rect x="236.5" y="21.70" width="4" height="13.15" fill="#08468b"/>
<rect x="236.5" y="34.80" width="4" height="13.35" fill="#2070b4"/>
<rect x="236.5" y="48.10" width="4" height="13.55" fill="#4f9bcb"/>
<rect x="236.5" y="61.60" width="4" height="13.25" fill="#8dc1dd"/>
<rect x="236.5" y="74.80" width="4" height="13.05" fill="#c6dbef"/>
<rect x="236.5" y="87.80" width="4" height="13.25" fill="#e7f0fa"/>
<rect x="236.5" y="21.7" width="4" height="79.3" fill="none" stroke="#000" stroke-opacity="0.18" stroke-width="0.6"/>
<line x1="240.5" y1="22" x2="241.8" y2="22" stroke="#000" stroke-opacity="0.45" stroke-width="0.5"/>
<text x="242.4" y="24.9" class="cb" textLength="13.4" lengthAdjust="spacingAndGlyphs">10<tspan class="sup" dy="-3.4">−3</tspan></text>
<line x1="240.5" y1="48.1" x2="241.8" y2="48.1" stroke="#000" stroke-opacity="0.45" stroke-width="0.5"/>
<text x="242.4" y="51.0" class="cb" textLength="13.4" lengthAdjust="spacingAndGlyphs">10<tspan class="sup" dy="-3.4">−4</tspan></text>
<line x1="240.5" y1="74.8" x2="241.8" y2="74.8" stroke="#000" stroke-opacity="0.45" stroke-width="0.5"/>
<text x="242.4" y="77.7" class="cb" textLength="13.4" lengthAdjust="spacingAndGlyphs">10<tspan class="sup" dy="-3.4">−5</tspan></text>
<line x1="240.5" y1="101" x2="241.8" y2="101" stroke="#000" stroke-opacity="0.45" stroke-width="0.5"/>
<text x="242.4" y="103.9" class="cb" textLength="13.4" lengthAdjust="spacingAndGlyphs">10<tspan class="sup" dy="-3.4">−6</tspan></text>
<text transform="translate(233.3,59.7) rotate(-90)" text-anchor="middle" class="cl" textLength="82" lengthAdjust="spacingAndGlyphs">Mixing Ratio (kg kg<tspan dy="-2.6" style="font-size:4.6px">−1</tspan><tspan dy="2.6">)</tspan></text>
<path d="M484.00,22.50 L486.20,26.10 L481.80,26.10Z" fill="#67001f"/>
<rect x="481.80" y="26.10" width="4.40" height="7.15" fill="#8a0b25"/>
<rect x="481.80" y="33.20" width="4.40" height="7.25" fill="#c43b3c"/>
<rect x="481.80" y="40.40" width="4.40" height="7.15" fill="#e48066"/>
<rect x="481.80" y="47.50" width="4.40" height="7.15" fill="#f8bfa4"/>
<rect x="481.80" y="54.60" width="4.40" height="7.25" fill="#fae9df"/>
<rect x="481.80" y="61.80" width="4.40" height="7.15" fill="#e4eef4"/>
<rect x="481.80" y="68.90" width="4.40" height="7.15" fill="#b1d5e7"/>
<rect x="481.80" y="76.00" width="4.40" height="7.25" fill="#6bacd1"/>
<rect x="481.80" y="83.20" width="4.40" height="7.15" fill="#327cb7"/>
<rect x="481.80" y="90.30" width="4.40" height="7.15" fill="#124984"/>
<path d="M481.80,97.40 L486.20,97.40 L484.00,101.00Z" fill="#053061"/>
<path d="M481.80,26.10 L484.00,22.50 L486.20,26.10 L486.20,97.40 L484.00,101.00 L481.80,97.40Z" fill="none" stroke="#000" stroke-opacity="0.18" stroke-width="0.6"/>
<line x1="486.20" y1="33.20" x2="487.50" y2="33.20" stroke="#000" stroke-opacity="0.45" stroke-width="0.5"/>
<line x1="486.20" y1="47.50" x2="487.50" y2="47.50" stroke="#000" stroke-opacity="0.45" stroke-width="0.5"/>
<line x1="486.20" y1="61.80" x2="487.50" y2="61.80" stroke="#000" stroke-opacity="0.45" stroke-width="0.5"/>
<line x1="486.20" y1="76.00" x2="487.50" y2="76.00" stroke="#000" stroke-opacity="0.45" stroke-width="0.5"/>
<line x1="486.20" y1="90.30" x2="487.50" y2="90.30" stroke="#000" stroke-opacity="0.45" stroke-width="0.5"/>
<path d="M484.00,142.50 L486.20,146.10 L481.80,146.10Z" fill="#67001f"/>
<rect x="481.80" y="146.10" width="4.40" height="7.15" fill="#8a0b25"/>
<rect x="481.80" y="153.20" width="4.40" height="7.25" fill="#c43b3c"/>
<rect x="481.80" y="160.40" width="4.40" height="7.15" fill="#e48066"/>
<rect x="481.80" y="167.50" width="4.40" height="7.15" fill="#f8bfa4"/>
<rect x="481.80" y="174.60" width="4.40" height="7.25" fill="#fae9df"/>
<rect x="481.80" y="181.80" width="4.40" height="7.15" fill="#e4eef4"/>
<rect x="481.80" y="188.90" width="4.40" height="7.15" fill="#b1d5e7"/>
<rect x="481.80" y="196.00" width="4.40" height="7.25" fill="#6bacd1"/>
<rect x="481.80" y="203.20" width="4.40" height="7.15" fill="#327cb7"/>
<rect x="481.80" y="210.30" width="4.40" height="7.15" fill="#124984"/>
<path d="M481.80,217.40 L486.20,217.40 L484.00,221.00Z" fill="#053061"/>
<path d="M481.80,146.10 L484.00,142.50 L486.20,146.10 L486.20,217.40 L484.00,221.00 L481.80,217.40Z" fill="none" stroke="#000" stroke-opacity="0.18" stroke-width="0.6"/>
<line x1="486.20" y1="153.20" x2="487.50" y2="153.20" stroke="#000" stroke-opacity="0.45" stroke-width="0.5"/>
<line x1="486.20" y1="167.50" x2="487.50" y2="167.50" stroke="#000" stroke-opacity="0.45" stroke-width="0.5"/>
<line x1="486.20" y1="181.80" x2="487.50" y2="181.80" stroke="#000" stroke-opacity="0.45" stroke-width="0.5"/>
<line x1="486.20" y1="196.00" x2="487.50" y2="196.00" stroke="#000" stroke-opacity="0.45" stroke-width="0.5"/>
<line x1="486.20" y1="210.30" x2="487.50" y2="210.30" stroke="#000" stroke-opacity="0.45" stroke-width="0.5"/>
<path d="M238.75,141.70 L240.90,145.30 L236.60,145.30Z" fill="#67001f"/>
<rect x="236.60" y="145.30" width="4.30" height="6.15" fill="#8a0b25"/>
<rect x="236.60" y="151.40" width="4.30" height="5.45" fill="#c43b3c"/>
<rect x="236.60" y="156.80" width="4.30" height="5.45" fill="#e48066"/>
<rect x="236.60" y="162.20" width="4.30" height="5.45" fill="#f8bfa4"/>
<rect x="236.60" y="167.60" width="4.30" height="5.45" fill="#fae9df"/>
<rect x="236.60" y="173.00" width="4.30" height="8.65" fill="#e4eef4"/>
<rect x="236.60" y="181.60" width="4.30" height="8.65" fill="#b1d5e7"/>
<rect x="236.60" y="190.20" width="4.30" height="8.55" fill="#6bacd1"/>
<rect x="236.60" y="198.70" width="4.30" height="8.65" fill="#327cb7"/>
<rect x="236.60" y="207.30" width="4.30" height="8.65" fill="#124984"/>
<path d="M236.60,215.90 L240.90,215.90 L238.75,220.30Z" fill="#053061"/>
<path d="M236.60,145.30 L238.75,141.70 L240.90,145.30 L240.90,215.90 L238.75,220.30 L236.60,215.90Z" fill="none" stroke="#000" stroke-opacity="0.18" stroke-width="0.6"/>
<line x1="240.90" y1="151.60" x2="242.20" y2="151.60" stroke="#000" stroke-opacity="0.45" stroke-width="0.5"/>
<line x1="240.90" y1="162.00" x2="242.20" y2="162.00" stroke="#000" stroke-opacity="0.45" stroke-width="0.5"/>
<line x1="240.90" y1="173.00" x2="242.20" y2="173.00" stroke="#000" stroke-opacity="0.45" stroke-width="0.5"/>
<line x1="240.90" y1="190.20" x2="242.20" y2="190.20" stroke="#000" stroke-opacity="0.45" stroke-width="0.5"/>
<line x1="240.90" y1="207.30" x2="242.20" y2="207.30" stroke="#000" stroke-opacity="0.45" stroke-width="0.5"/>
<text x="490.6" y="35.8" class="cb" style="font-size:8.5px">2</text>
<text x="490.6" y="50.1" class="cb" style="font-size:8.5px">1</text>
<text x="490.6" y="64.5" class="cb" style="font-size:8.5px">0</text>
<text x="487.9" y="78.8" class="cb" style="font-size:8.5px">-<tspan x="490.6">1</tspan></text>
<text x="487.9" y="93.2" class="cb" style="font-size:8.5px">-<tspan x="490.6">2</tspan></text>
<text x="490.6" y="155.8" class="cb" style="font-size:8.5px">2</text>
<text x="490.6" y="170.1" class="cb" style="font-size:8.5px">1</text>
<text x="490.6" y="184.5" class="cb" style="font-size:8.5px">0</text>
<text x="487.9" y="198.8" class="cb" style="font-size:8.5px">-<tspan x="490.6">1</tspan></text>
<text x="487.9" y="213.2" class="cb" style="font-size:8.5px">-<tspan x="490.6">2</tspan></text>

<text x="241.9" y="154.6" class="cb" style="font-size:8.5px">0.2</text>
<text x="241.9" y="165.4" class="cb" style="font-size:8.5px">0.1</text>
<text x="244.9" y="175.7" class="cb" style="font-size:8.5px">0</text>
<text x="242.2" y="192.9" class="cb" style="font-size:8.5px">-<tspan x="244.9">1</tspan></text>
<text x="242.2" y="209.6" class="cb" style="font-size:8.5px">-<tspan x="244.9">2</tspan></text>
<text x="474.6" y="20.9" class="cb" style="font-size:7.4px;fill:#444" textLength="18.6" lengthAdjust="spacingAndGlyphs">× 10<tspan class="sup" style="fill:#444" dy="-3.2">−7</tspan></text>
<text x="229.3" y="140.9" class="cb" style="font-size:7.4px;fill:#444" textLength="18.6" lengthAdjust="spacingAndGlyphs">× 10<tspan class="sup" style="fill:#444" dy="-3.2">−7</tspan></text>
<text x="474.6" y="140.9" class="cb" style="font-size:7.4px;fill:#444" textLength="18.6" lengthAdjust="spacingAndGlyphs">× 10<tspan class="sup" style="fill:#444" dy="-3.2">−7</tspan></text>
<text transform="translate(478.4,57.8) rotate(-90)" text-anchor="middle" class="cl" textLength="69" lengthAdjust="spacingAndGlyphs">Trend (kg kg<tspan dy="-2.6" style="font-size:4.6px">−1</tspan><tspan dy="2.6"> s</tspan><tspan dy="-2.6" style="font-size:4.6px">−1</tspan><tspan dy="2.6">)</tspan></text>
<text transform="translate(234.0,177.8) rotate(-90)" text-anchor="middle" class="cl" textLength="69" lengthAdjust="spacingAndGlyphs">Trend (kg kg<tspan dy="-2.6" style="font-size:4.6px">−1</tspan><tspan dy="2.6"> s</tspan><tspan dy="-2.6" style="font-size:4.6px">−1</tspan><tspan dy="2.6">)</tspan></text>
<text transform="translate(478.4,177.8) rotate(-90)" text-anchor="middle" class="cl" textLength="69" lengthAdjust="spacingAndGlyphs">Trend (kg kg<tspan dy="-2.6" style="font-size:4.6px">−1</tspan><tspan dy="2.6"> s</tspan><tspan dy="-2.6" style="font-size:4.6px">−1</tspan><tspan dy="2.6">)</tspan></text>
</svg></body></html>
